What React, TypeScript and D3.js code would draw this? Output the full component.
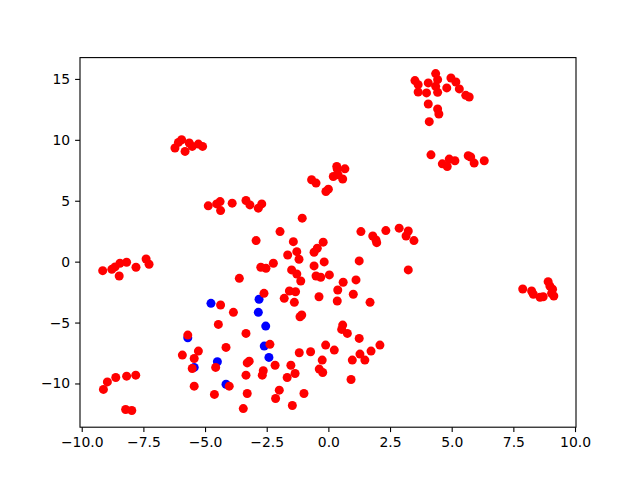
import React, { useEffect, useRef } from 'react';
import * as d3 from 'd3';

// red points [x, y]
const redPoints: [number, number][] = [
  // top right cluster
  [3.51, 14.86], [3.64, 14.53], [3.64, 13.93], [4.05, 14.67], [4.35, 15.44],
  [4.43, 14.94], [4.35, 14.39], [3.98, 13.85], [4.43, 13.9], [4.8, 14.26],
  [4.97, 15.08], [5.17, 14.75], [5.31, 14.18], [5.57, 13.65], [5.71, 13.52],
  [4.05, 12.94], [4.43, 12.53], [4.48, 12.12], [4.09, 11.49],
  // right, y ~ 8
  [4.16, 8.77], [4.62, 8.03], [4.82, 7.81], [4.9, 8.42], [5.13, 8.28],
  [5.67, 8.69], [5.77, 8.59], [5.91, 8.09], [6.32, 8.28],
  // upper left, y ~ 9.5
  [-6.22, 9.33], [-6.08, 9.79], [-5.95, 10.01], [-5.81, 9.05], [-5.64, 9.74],
  [-5.52, 9.46], [-5.27, 9.65], [-5.1, 9.46],
  // y ~ 4.5
  [-4.87, 4.58], [-4.53, 4.74], [-4.39, 4.93], [-4.37, 4.19], [-3.9, 4.8],
  [-3.34, 5.02], [-3.18, 4.66], [-2.84, 4.39], [-2.7, 4.74],
  [-0.68, 6.72], [-0.5, 6.45], [-1.06, 3.57],
  // around (0.3, 7)
  [-0.1, 5.76], [0.0, 5.95], [0.2, 6.99], [0.34, 7.81], [0.36, 7.6],
  [0.67, 7.62], [0.58, 6.78], [0.39, 7.14],
  // left, y ~ 0
  [-9.15, -0.74], [-8.78, -0.63], [-8.65, -0.43], [-8.45, -0.13], [-8.18, -0.05],
  [-8.48, -1.18], [-7.8, -0.46], [-7.39, 0.22], [-7.27, -0.21],
  // bottom left
  [-9.12, -10.49], [-8.96, -9.87], [-8.62, -9.51], [-8.18, -9.4], [-7.81, -9.32],
  [-8.22, -12.14], [-7.97, -12.22],
  // right, y ~ -2.5
  [7.88, -2.25], [8.24, -2.41], [8.31, -2.68], [8.58, -2.93], [8.71, -2.88],
  [8.91, -1.64], [8.98, -2.0], [9.09, -2.27], [9.14, -2.82], [9.05, -2.6],
  // centre, upper part
  [-1.96, 2.47], [-2.93, 1.73], [-1.42, 1.64], [-0.21, 1.6], [-0.45, 1.1],
  [-0.58, 0.77], [-1.65, 0.55], [-1.28, 0.82], [-1.19, 0.2], [-2.23, -0.13],
  [-2.74, -0.46], [-2.53, -0.54], [-1.49, -0.68], [-1.28, -1.01], [-1.12, -1.59],
  [-0.58, -0.35], [-0.17, -0.02], [-0.5, -1.18], [-0.31, -1.28], [0.04, -1.09],
  [1.25, 0.06], [1.32, 2.47], [1.8, 2.11], [1.93, 1.78], [1.96, 1.56],
  [2.33, 2.55], [2.87, 2.75], [3.24, 2.52], [3.15, 2.11], [3.47, 1.73],
  [3.24, -0.68], [1.12, -1.5], [0.6, -1.69], [0.38, -2.33], [1.01, -2.68],
  [0.36, -3.23], [1.69, -3.34], [-0.38, -2.88], [-1.58, -2.41], [-1.33, -2.47],
  [-1.79, -3.01], [-1.38, -3.34], [-2.61, -2.6], [-1.08, -4.38], [-1.15, -4.52],
  [-3.61, -1.37],
  // centre, lower right part
  [0.58, -5.21], [0.54, -5.56], [0.77, -5.89], [1.25, -6.3], [-0.11, -6.85],
  [0.24, -7.26], [2.09, -6.85], [1.73, -7.34], [1.28, -7.59], [1.48, -8.08],
  [0.97, -8.08], [-1.18, -7.48], [-0.72, -7.4], [-0.25, -8.08], [-0.37, -8.82],
  [-0.23, -9.1], [0.92, -9.67], [-1.52, -8.5], [-1.67, -9.51], [-1.35, -9.18],
  [-0.99, -10.82], [-1.46, -11.81],
  // centre, lower left part
  [-4.37, -3.56], [-3.85, -4.16], [-4.46, -5.15], [-3.34, -5.89], [-5.7, -6.03],
  [-5.92, -7.67], [-5.27, -7.34], [-5.44, -7.95], [-5.52, -8.77], [-4.15, -7.04],
  [-4.57, -8.68], [-3.29, -8.31], [-3.21, -8.17], [-3.34, -9.32], [-2.37, -6.79],
  [-2.16, -8.5], [-2.64, -8.96], [-2.68, -9.32], [-1.99, -10.55], [-2.14, -11.23],
  [-5.44, -10.22], [-4.02, -10.22], [-4.62, -10.9], [-3.29, -10.82], [-3.45, -12.06],
];

// blue points [x, y]
const bluePoints: [number, number][] = [
  [-4.76, -3.42], [-2.81, -3.09], [-2.84, -4.16], [-2.54, -5.29], [-5.7, -6.25],
  [-2.6, -6.93], [-2.41, -7.86], [-4.5, -8.22], [-5.44, -8.68], [-4.15, -10.06],
];

const xTicks = [-10, -7.5, -5, -2.5, 0, 2.5, 5, 7.5, 10];
const yTicks = [-10, -5, 0, 5, 10, 15];

const ScatterChart = () => {
  const ref = useRef<SVGSVGElement>(null);

  useEffect(() => {
    const width = 640,
      height = 480;
    const margin = { top: 57.6, right: 64, bottom: 52.8, left: 80 };

    const svg = d3.select(ref.current);
    svg.selectAll('*').remove();

    const x = d3
      .scaleLinear()
      .domain([-10.07, 10.04])
      .range([margin.left, width - margin.right]);
    const y = d3
      .scaleLinear()
      .domain([-13.59, 16.75])
      .range([height - margin.bottom, margin.top]);

    const fmt = (d: number, digits: number) => d.toFixed(digits).replace('-', '\u2212');

    svg
      .append('g')
      .selectAll('circle.blue')
      .data(bluePoints)
      .enter()
      .append('circle')
      .attr('cx', d => x(d[0]))
      .attr('cy', d => y(d[1]))
      .attr('r', 4.5)
      .attr('fill', '#0000ff');

    svg
      .append('g')
      .selectAll('circle.red')
      .data(redPoints)
      .enter()
      .append('circle')
      .attr('cx', d => x(d[0]))
      .attr('cy', d => y(d[1]))
      .attr('r', 4.5)
      .attr('fill', '#ff0000');

    const xAxis = svg
      .append('g')
      .attr('transform', `translate(0, ${height - margin.bottom})`)
      .call(
        d3
          .axisBottom(x)
          .tickValues(xTicks)
          .tickSizeOuter(0)
          .tickSize(4.9)
          .tickPadding(4.9)
          .tickFormat(d => fmt(d as number, 1))
      );

    const yAxis = svg
      .append('g')
      .attr('transform', `translate(${margin.left}, 0)`)
      .call(
        d3
          .axisLeft(y)
          .tickValues(yTicks)
          .tickSizeOuter(0)
          .tickSize(4.9)
          .tickPadding(4.9)
          .tickFormat(d => fmt(d as number, 0))
      );

    [xAxis, yAxis].forEach(a => {
      a.select('.domain').remove();
      a.selectAll('line').attr('stroke', '#000').attr('stroke-width', 1.1);
      a.selectAll('text')
        .attr('fill', '#000')
        .style('font-family', 'DejaVu Sans')
        .style('font-size', '13.9px');
    });

    // frame
    svg
      .append('rect')
      .attr('x', margin.left)
      .attr('y', margin.top)
      .attr('width', width - margin.left - margin.right)
      .attr('height', height - margin.top - margin.bottom)
      .attr('fill', 'none')
      .attr('stroke', '#000')
      .attr('stroke-width', 1.1);
  }, []);

  return <svg ref={ref} width={640} height={480} style={{ display: 'block', background: '#fff' }} />;
};

export default function App() {
  return (
    <>
      <style>{`body { margin: 0; }`}</style>
      <ScatterChart />
    </>
  );
}
